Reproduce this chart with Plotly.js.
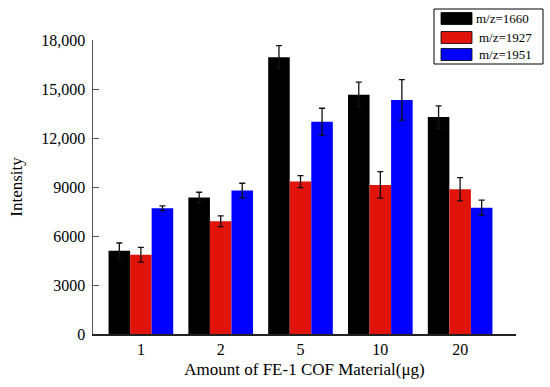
<!DOCTYPE html>
<html><head><meta charset="utf-8">
<script src="https://cdn.plot.ly/plotly-3.0.1.min.js"></script>
<style>html,body{margin:0;padding:0;background:#fff}#chart{width:550px;height:387px}</style>
</head><body><div id="chart"></div>
<script>
const categories = ['1', '2', '5', '10', '20'];
const seriesNames = ['m/z=1660', 'm/z=1927', 'm/z=1951'];
const mz1660 = [5100, 8350, 16950, 14650, 13280];
const mz1660Err = [470, 330, 700, 770, 690];
const mz1927 = [4850, 6900, 9330, 9130, 8860];
const mz1927Err = [450, 330, 370, 810, 710];
const mz1951 = [7700, 8780, 13000, 14330, 7730];
const mz1951Err = [150, 450, 820, 1240, 470];
const yTickVals = [0, 3000, 6000, 9000, 12000, 15000, 18000];
const yTickText = ['0', '3000', '6000', '9000', '12,000', '15,000', '18,000'];

const colors = ['#000000', '#e0140a', '#0000ff'];
const vals = [mz1660, mz1927, mz1951];
const errs = [mz1660Err, mz1927Err, mz1951Err];
const font = 'Liberation Serif, Times New Roman, serif';

const data = vals.map((v, i) => ({
  type: 'bar', name: seriesNames[i], x: categories, y: v,
  marker: {color: colors[i], line: {width: 0}},
  error_y: {type: 'data', array: errs[i], visible: true, color: '#111', thickness: 1.3, width: 3}
}));

// custom legend (plot area: x 93..516, y 40..334 px)
const W = 423, H = 294;
const px = x => (x - 93) / W, py = y => (334 - y) / H;
const shapes = [{type: 'rect', xref: 'paper', yref: 'paper', x0: px(434), x1: px(543), y0: py(64), y1: py(9),
  line: {color: '#000', width: 1}, fillcolor: '#fff', layer: 'above'}];
const annotations = [];
const rowTop = [12.5, 31.5, 48.5];
seriesNames.forEach((n, i) => {
  shapes.push({type: 'rect', xref: 'paper', yref: 'paper', x0: px(441), x1: px(472), y0: py(rowTop[i] + 12), y1: py(rowTop[i]),
    line: {color: '#000', width: 0.8}, fillcolor: colors[i], layer: 'above'});
  annotations.push({xref: 'paper', yref: 'paper', x: px(i === 0 ? 474 : 477), y: py(rowTop[i] + 6), xanchor: 'left', yanchor: 'middle',
    text: n, showarrow: false, font: {family: font, size: 13, color: '#000'}});
});

const layout = {
  width: 550, height: 387,
  margin: {l: 93, r: 34, t: 40, b: 53},
  paper_bgcolor: '#fff', plot_bgcolor: '#fff',
  barmode: 'group', bargap: 0.19, bargroupgap: 0,
  font: {family: font, color: '#000', size: 15},
  showlegend: false,
  shapes: shapes, annotations: annotations,
  xaxis: {type: 'category', range: [-0.6, 4.7], showline: true, linecolor: '#222', linewidth: 1.5,
    ticks: '', showgrid: false, zeroline: false, tickfont: {family: font, size: 16},
    title: {text: 'Amount of FE-1 COF Material(μg)', font: {family: font, size: 17}, standoff: 6}},
  yaxis: {range: [0, 18000], tickvals: yTickVals, ticktext: yTickText, showline: true, linecolor: '#555', linewidth: 1.5,
    ticks: 'inside', ticklen: 6, tickcolor: '#555', showgrid: false, zeroline: false, tickfont: {family: font, size: 16},
    ticklabelstandoff: 3,
    title: {text: 'Intensity', font: {family: font, size: 17}, standoff: 14}}
};
Plotly.newPlot('chart', data, layout, {displayModeBar: false, staticPlot: true});
</script></body></html>
